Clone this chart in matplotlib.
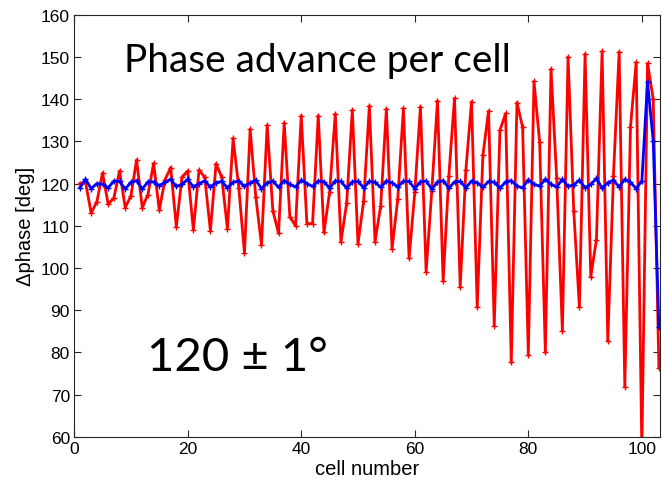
import numpy as np
import matplotlib
matplotlib.use("Agg")
import matplotlib.pyplot as plt

cells = list(range(1, 104))

red_phase = [
    120.0, 120.3, 113.0, 115.7, 122.5, 115.1, 116.6, 123.0, 114.3, 117.1,
    125.6, 114.3, 117.4, 124.8, 113.7, 120.9, 123.8, 109.8, 121.5, 123.0,
    109.0, 123.2, 121.5, 108.8, 124.7, 121.5, 109.3, 130.7, 119.0, 103.5,
    132.9, 116.8, 105.5, 133.8, 113.6, 108.2, 134.4, 112.1, 110.0, 136.1,
    110.5, 110.5, 136.1, 108.4, 118.0, 136.5, 106.2, 115.3, 137.4, 105.7,
    115.9, 138.4, 106.2, 114.7, 137.7, 104.5, 116.3, 137.8, 102.3, 117.9,
    138.2, 99.1, 118.3, 139.6, 96.9, 121.8, 140.2, 95.5, 123.2, 139.4,
    90.8, 126.7, 137.2, 86.3, 132.6, 136.6, 77.6, 139.2, 133.3, 79.4,
    144.2, 129.8, 80.0, 147.1, 121.2, 85.1, 150.0, 113.6, 90.7, 150.7,
    97.9, 106.7, 151.3, 82.7, 121.9, 151.2, 71.8, 133.5, 148.7, 57.0,
    148.5, 140.0, 76.4,
]

blue_phase = [
    119.0, 121.0, 118.8, 120.0, 119.8, 119.0, 120.6, 120.5, 118.7, 120.3,
    120.7, 118.7, 120.4, 120.4, 119.5, 120.3, 121.0, 119.3, 119.8, 121.0,
    119.2, 120.0, 120.6, 119.2, 120.2, 120.5, 119.0, 120.3, 120.6, 119.3,
    120.2, 120.8, 118.8, 120.2, 120.6, 119.1, 120.7, 119.8, 119.2, 120.8,
    120.0, 119.3, 120.6, 120.4, 118.9, 120.6, 120.5, 118.9, 120.4, 120.5,
    119.0, 120.5, 120.3, 119.1, 120.6, 120.2, 119.2, 120.5, 120.5, 118.8,
    120.4, 120.6, 118.7, 120.3, 120.7, 118.9, 120.4, 120.5, 119.0, 120.6,
    120.2, 119.1, 120.5, 120.3, 118.9, 120.4, 120.7, 119.4, 119.0, 120.9,
    119.8, 119.4, 121.0, 119.8, 119.2, 121.0, 119.3, 119.7, 120.8, 119.0,
    119.8, 121.2, 118.9, 120.2, 120.8, 119.2, 121.0, 120.3, 118.8, 120.6,
    144.1, 130.1, 85.9,
]

x_ticks = [0, 20, 40, 60, 80, 100]
y_ticks = [60, 70, 80, 90, 100, 110, 120, 130, 140, 150, 160]

fig = plt.figure(figsize=(6.62, 4.85), dpi=100)
ax = fig.add_axes([0.112, 0.0975, 0.885, 0.87])

ax.plot(cells, red_phase, color="#ff0000", lw=2.0, marker="+", ms=4, mew=1.0)
ax.plot(cells, blue_phase, color="#0000ff", lw=2.0, marker="+", ms=4, mew=1.0)

ax.set_xlim(0, 103.2)
ax.set_ylim(60, 160)
ax.set_xticks(x_ticks)
ax.set_yticks(y_ticks)
ax.tick_params(direction="in", top=True, right=True, length=5, width=0.8,
               labelsize=12.5, colors="#262626", pad=3)
for lab in ax.get_xticklabels() + ax.get_yticklabels():
    lab.set_family("Liberation Sans")
    lab.set_color("black")
for s in ax.spines.values():
    s.set_color("#262626")
    s.set_linewidth(0.8)

ax.set_xlabel("cell number", fontsize=14.5, family="Liberation Sans", labelpad=2)
ax.set_ylabel("\u0394phase [deg]", fontsize=14.5, family="Liberation Sans", labelpad=4)

fig.text(0.48, 0.874, "Phase advance per cell", fontsize=28, family="Lato",
         ha="center", va="center")
fig.text(0.358, 0.262, "120 \u00b1 1\u00b0", fontsize=34, family="Lato",
         ha="center", va="center")

fig.savefig("out.png", dpi=100)
